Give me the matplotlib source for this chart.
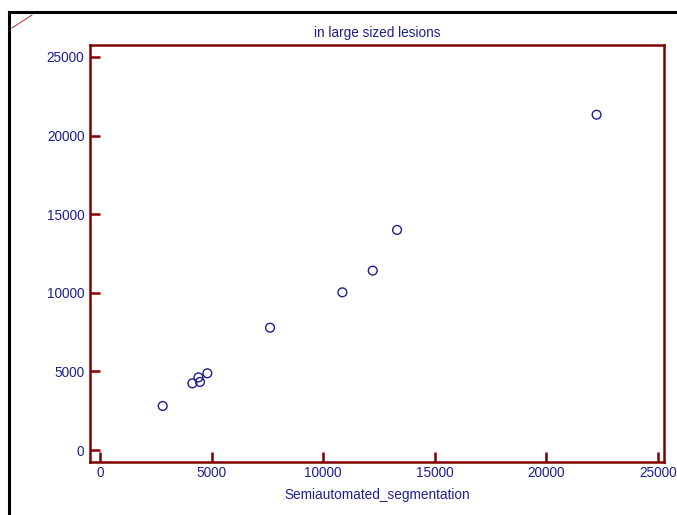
import matplotlib.pyplot as plt
from matplotlib.lines import Line2D

# Data
semiautomated = [2810, 4140, 4480, 4410, 4810, 7620, 10860, 12220, 13310, 22250]
manual = [2800, 4240, 4330, 4620, 4880, 7780, 10030, 11410, 14000, 21330]
ticks = [0, 5000, 10000, 15000, 20000, 25000]

navy = '#1f1f8f'
maroon = '#800000'

plt.rcParams['font.family'] = ['Liberation Sans', 'DejaVu Sans']

fig = plt.figure(figsize=(6.77, 5.15), dpi=100)
ax = fig.add_axes([90 / 677, 1 - 462 / 515, 574 / 677, 417 / 515])

ax.scatter(semiautomated, manual, s=40, facecolors='none', edgecolors=navy, linewidths=1.0, zorder=3)

ax.set_xlim(-448, 25270)
ax.set_ylim(-763, 25763)
ax.set_xticks(ticks)
ax.set_yticks(ticks)
ax.tick_params(direction='in', length=7.2, width=1.8, color=maroon,
               labelcolor=navy, labelsize=9.8, pad=3)
ax.tick_params(axis='y', pad=4)

for side in ax.spines.values():
    side.set_color(maroon)
    side.set_linewidth(1.8)

ax.set_title('in large sized lesions', fontsize=9.8, color=navy, pad=6)
ax.set_xlabel('Semiautomated_segmentation', fontsize=9.8, color=navy, labelpad=5.5)

# outer black frame and the small corner mark
fig.add_artist(Line2D([9 / 677, 1.0], [1 - 12 / 515, 1 - 12 / 515], color='black', lw=2.2))
fig.add_artist(Line2D([9 / 677, 9 / 677], [0.0, 1 - 12 / 515], color='black', lw=2.2))
fig.add_artist(Line2D([12 / 677, 32 / 677], [1 - 28 / 515, 1 - 15 / 515], color='#b03030', lw=0.7))

fig.savefig('out.png', dpi=100)
